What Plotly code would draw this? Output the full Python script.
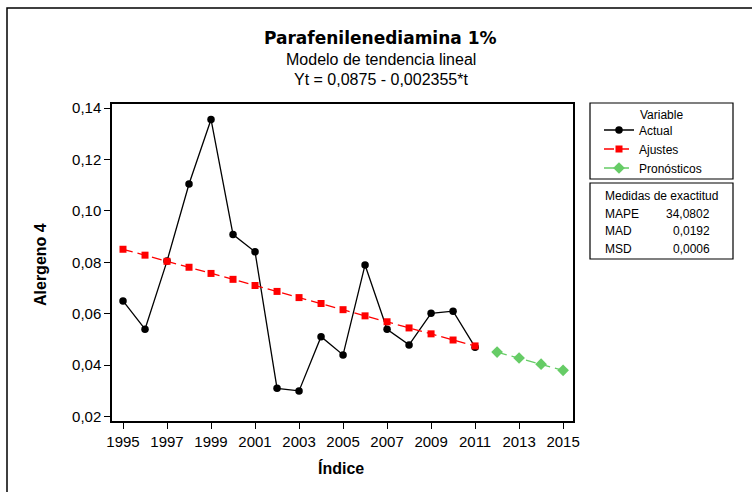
import plotly.graph_objects as go

years_actual = [1995, 1996, 1997, 1998, 1999, 2000, 2001, 2002, 2003, 2004, 2005,
                2006, 2007, 2008, 2009, 2010, 2011]
actual = [0.0650, 0.0540, 0.0805, 0.1105, 0.1356, 0.0908, 0.0841, 0.0310, 0.0300,
          0.0511, 0.0440, 0.0790, 0.0540, 0.0479, 0.0602, 0.0610, 0.0470]
fits = [0.0851, 0.0828, 0.0804, 0.0781, 0.0757, 0.0734, 0.0710, 0.0687, 0.0663,
        0.0640, 0.0616, 0.0592, 0.0569, 0.0545, 0.0522, 0.0498, 0.0475]
years_fc = [2012, 2013, 2014, 2015]
forecast = [0.0451, 0.0428, 0.0404, 0.0380]
x_ticks = [1995, 1997, 1999, 2001, 2003, 2005, 2007, 2009, 2011, 2013, 2015]
acc_labels = ["MAPE", "MAD", "MSD"]
acc_values = ["34,0802", "0,0192", "0,0006"]

FONT = "Liberation Sans, Arial, sans-serif"
W, H = 752, 492
L, R, T, B = 112, 179, 104, 71
PW, PH = W - L - R, H - T - B


def px(x):
    return (x - L) / PW


def py(y):
    return (H - B - y) / PH


fig = go.Figure()
fig.add_trace(go.Scatter(x=years_actual, y=actual, name="Actual", mode="lines+markers",
                         line=dict(color="black", width=1.3),
                         marker=dict(symbol="circle", size=7.5, color="black")))
fig.add_trace(go.Scatter(x=years_actual, y=fits, name="Ajustes", mode="lines+markers",
                         line=dict(color="#ff0000", width=1.3, dash="10px,5px"),
                         marker=dict(symbol="square", size=7, color="#ff0000")))
fig.add_trace(go.Scatter(x=years_fc, y=forecast, name="Pronósticos", mode="lines+markers",
                         line=dict(color="#66cc66", width=1.3, dash="10px,5px"),
                         marker=dict(symbol="diamond", size=9, color="#66cc66")))

shapes = [
    dict(type="rect", xref="paper", yref="paper", x0=px(7), x1=px(900), y0=py(700), y1=py(8),
         line=dict(color="black", width=1.5), fillcolor="rgba(0,0,0,0)", layer="below"),
    dict(type="rect", xref="paper", yref="paper", x0=px(590), x1=px(733), y0=py(179), y1=py(103),
         line=dict(color="black", width=1.2), fillcolor="white"),
    dict(type="rect", xref="paper", yref="paper", x0=px(590), x1=px(733), y0=py(259), y1=py(183),
         line=dict(color="black", width=1.2), fillcolor="white"),
]


def ann(text, x, y, size, xanchor="center", angle=0, family=FONT):
    return dict(text=text, x=px(x), y=py(y), xref="paper", yref="paper",
                xanchor=xanchor, yanchor="middle", textangle=angle, showarrow=False,
                font=dict(family=family, size=size, color="black"))


annotations = [
    ann("<b>Parafenilenediamina 1%</b>", 380, 38, 17, family="DejaVu Sans, Verdana, sans-serif"),
    ann("Modelo de tendencia lineal", 381, 59, 16),
    ann("Yt = 0,0875 - 0,002355*t", 381, 79, 16),
    ann("<b>Alergeno 4</b>", 40, 265, 16, angle=-90),
    ann("<b>Índice</b>", 341, 468, 16),
    ann("Variable", 661, 115, 12),
    ann("Medidas de exactitud", 661, 196, 12),
]
row_y = [214, 231, 249]
for lab, val, yy in zip(acc_labels, acc_values, row_y):
    annotations.append(ann(lab, 603, yy, 12, xanchor="left"))
    annotations.append(ann(val, 712, yy, 12, xanchor="right"))

fig.update_layout(
    width=W, height=H,
    margin=dict(l=L, r=R, t=T, b=B, autoexpand=False),
    paper_bgcolor="white", plot_bgcolor="white",
    separators=",.",
    font=dict(family=FONT, size=15, color="black"),
    showlegend=True,
    legend=dict(x=px(599), y=py(115.5), xanchor="left", yanchor="top",
                bgcolor="rgba(0,0,0,0)", borderwidth=0,
                font=dict(family=FONT, size=12, color="black"),
                itemwidth=30, tracegroupgap=0),
    shapes=shapes,
    annotations=annotations,
    xaxis=dict(range=[1994.5, 2015.45], tickvals=x_ticks, ticktext=[str(v) for v in x_ticks],
               showline=True, linecolor="black", linewidth=1.5, mirror=True,
               ticks="outside", ticklen=6, tickcolor="black", tickwidth=1.2,
               showgrid=False, zeroline=False,
               tickfont=dict(family=FONT, size=15, color="black")),
    yaxis=dict(range=[0.0183, 0.1416], tickvals=[0.02, 0.04, 0.06, 0.08, 0.10, 0.12, 0.14],
               tickformat=".2f",
               showline=True, linecolor="black", linewidth=1.5, mirror=True,
               ticks="outside", ticklen=6, tickcolor="black", tickwidth=1.2,
               showgrid=False, zeroline=False,
               tickfont=dict(family=FONT, size=15, color="black")),
)

fig.write_html("out.html", config={"displayModeBar": False},
               post_script="document.body.style.margin='0';")
